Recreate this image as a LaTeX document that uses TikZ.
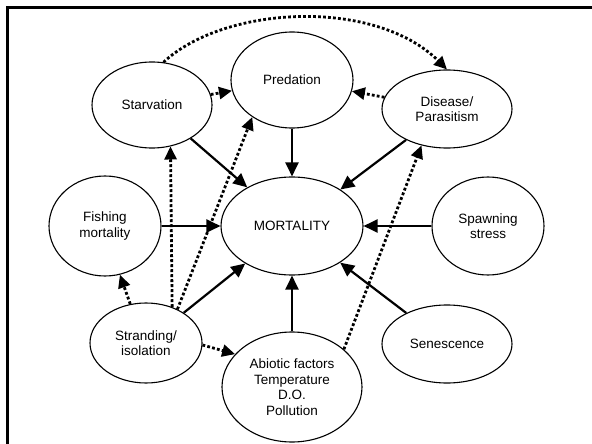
\documentclass[tikz,border=0pt]{standalone}
\usepackage{fontspec}
\setmainfont{Liberation Sans}
\usepackage{tikz}
\usetikzlibrary{arrows.meta,shapes.geometric}

\begin{document}
\begin{tikzpicture}[x=1pt,y=-1pt,
  factor/.style={ellipse, draw, line width=1.1pt, inner sep=0pt, align=center,
    font=\fontsize{13.5}{15.5}\selectfont},
  cause/.style={line width=2.2pt, -{Triangle[length=14pt,width=13pt]}},
  link/.style={line width=2.8pt, dash pattern=on 2.8pt off 2.2pt,
    -{Triangle[length=13pt,width=12pt]}}]
\useasboundingbox (0,0) rectangle (592,444);
\draw[line width=3pt] (7.5,444) -- (7.5,7.5) -- (592,7.5);

% the factors
\node[factor, minimum width=120, minimum height=86] (starv) at (152,105) {Starvation};
\node[factor, minimum width=122, minimum height=96] (pred) at (292,80) {Predation};
\node[factor, minimum width=130, minimum height=78] (dis) at (447,109) {Disease/\\Parasitism};
\node[factor, minimum width=142, minimum height=98] (mort) at (292,226) {MORTALITY};
\node[factor, minimum width=112, minimum height=100] (fish) at (105,226) {Fishing\\mortality};
\node[factor, minimum width=112, minimum height=98] (spawn) at (488,226) {Spawning\\stress};
\node[factor, minimum width=112, minimum height=80] (strand) at (146,343) {Stranding/\\isolation};
\node[factor, minimum width=140, minimum height=110] (abio) at (292,387) {Abiotic factors\\Temperature\\D.O.\\Pollution};
\node[factor, minimum width=130, minimum height=78] (senes) at (447,344) {Senescence};

% direct causes
\draw[cause] (starv) -- (mort);
\draw[cause] (pred) -- (mort);
\draw[cause] (dis) -- (mort);
\draw[cause] (fish) -- (mort);
\draw[cause] (spawn) -- (mort);
\draw[cause] (strand) -- (mort);
\draw[cause] (abio) -- (mort);
\draw[cause] (senes) -- (mort);

% indirect links
\draw[link] (starv.75) .. controls (225,5) and (375,-2) .. (dis.north);
\draw[link] (starv) -- (pred);
\draw[link] (dis) -- (pred);
\draw[link] (strand.54) -- (starv.-66);
\draw[link] (strand.47) -- (pred.-137);
\draw[link] (strand.112) -- (fish.-73);
\draw[link] (strand.-2) -- (abio.150);
\draw[link] (abio.36) -- (dis.-125);
\end{tikzpicture}
\end{document}
